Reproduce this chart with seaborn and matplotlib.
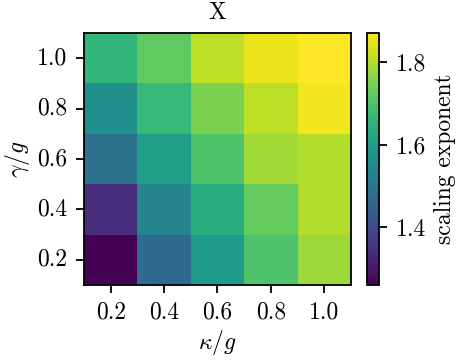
import matplotlib
matplotlib.use("Agg")
import matplotlib.pyplot as plt
import seaborn as sns
import pandas as pd

kappa = [0.2, 0.4, 0.6, 0.8, 1.0]
gamma = [1.0, 0.8, 0.6, 0.4, 0.2]  # top row first

# scaling exponent, rows = gamma (top to bottom), columns = kappa
row_g10 = [1.66, 1.72, 1.81, 1.85, 1.87]
row_g08 = [1.565, 1.67, 1.75, 1.81, 1.86]
row_g06 = [1.49, 1.60, 1.70, 1.785, 1.80]
row_g04 = [1.34, 1.535, 1.645, 1.725, 1.80]
row_g02 = [1.26, 1.47, 1.595, 1.70, 1.78]

plt.rcParams["font.family"] = "serif"
plt.rcParams["font.serif"] = ["cmr10"]
plt.rcParams["mathtext.fontset"] = "cm"
plt.rcParams["axes.formatter.use_mathtext"] = True

FS = 17

df = pd.DataFrame([row_g10, row_g08, row_g06, row_g04, row_g02],
                  index=[f"{g:.1f}" for g in gamma],
                  columns=[f"{k:.1f}" for k in kappa])

fig = plt.figure(figsize=(4.6, 3.6), dpi=100)
ax = fig.add_axes([84 / 460, 1 - 285 / 360, 267 / 460, 252 / 360])
cax = fig.add_axes([367 / 460, 1 - 285 / 360, 12 / 460, 252 / 360])

sns.heatmap(df, ax=ax, cbar_ax=cax, cmap="viridis",
            cbar_kws={"ticks": [1.4, 1.6, 1.8]})

for s in ax.spines.values():
    s.set_visible(True)
    s.set_linewidth(1.3)
    s.set_color("black")
cb = ax.collections[0].colorbar
cb.outline.set_linewidth(1.3)
cb.outline.set_edgecolor("black")
cb.set_label("scaling exponent", fontsize=FS, labelpad=6)
cax.tick_params(labelsize=FS, length=6, width=1.3, pad=6)
cax.yaxis.set_ticklabels(["1.4", "1.6", "1.8"])

ax.tick_params(labelsize=FS, length=6, width=1.3, pad=6)
ax.set_yticklabels(ax.get_yticklabels(), rotation=0)
ax.set_xlabel(r"$\kappa/g$", fontsize=FS, labelpad=3)
ax.set_ylabel(r"$\gamma/g$", fontsize=FS, labelpad=4)
ax.set_title("X", fontsize=FS, pad=10)

fig.savefig("out.png", dpi=100)
